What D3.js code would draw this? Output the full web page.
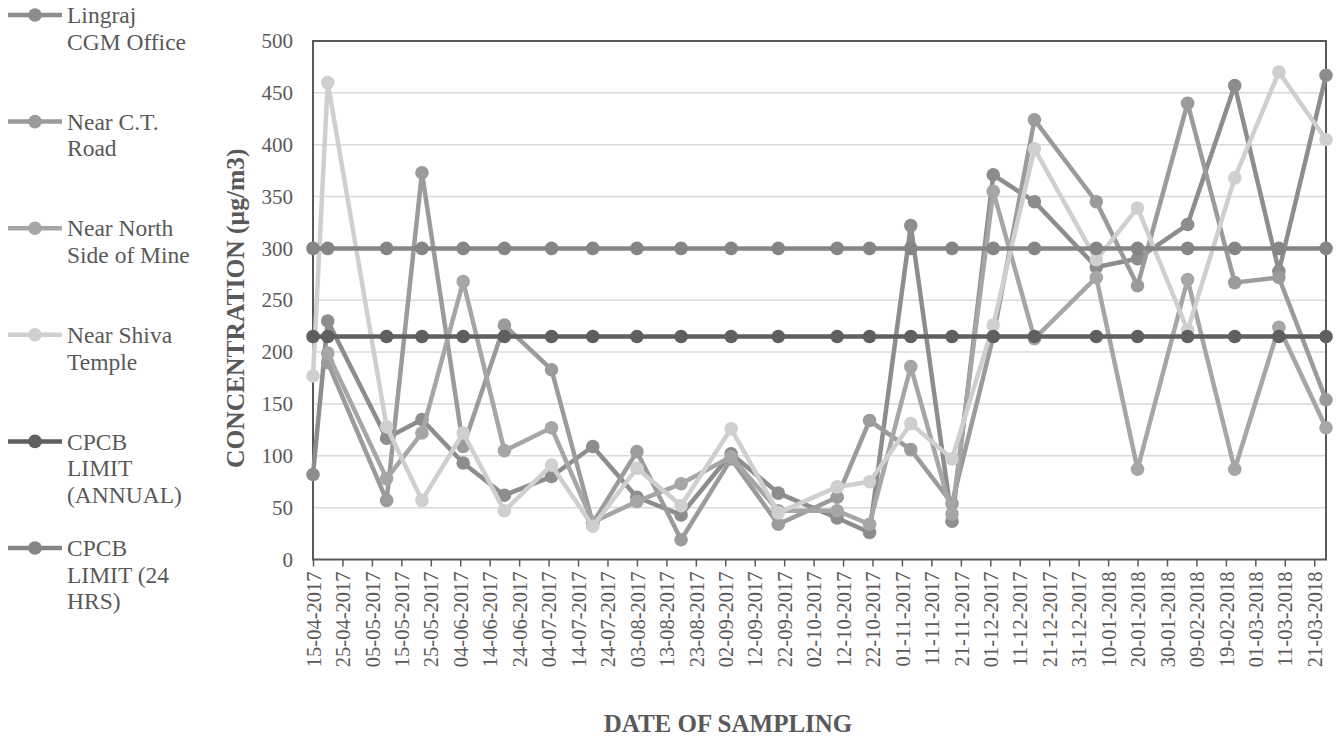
<!DOCTYPE html>
<html>
<head>
<meta charset="utf-8">
<script src="https://cdn.jsdelivr.net/npm/d3@7"></script>
<style>
  html, body { margin: 0; padding: 0; background: #ffffff; }
  svg { display: block; }
  text { font-family: "Liberation Serif", "Times New Roman", serif; fill: #595959; }
</style>
</head>
<body>
<svg id="chart" width="1337" height="740"></svg>
<script>
// Sampling dates (twice a month, Apr 2017 – Mar 2018)
const sampleDates = [
  "2017-04-15", "2017-04-20", "2017-05-10", "2017-05-22", "2017-06-05", "2017-06-19",
  "2017-07-05", "2017-07-19", "2017-08-03", "2017-08-18", "2017-09-04", "2017-09-20",
  "2017-10-10", "2017-10-21", "2017-11-04", "2017-11-18", "2017-12-02", "2017-12-16",
  "2018-01-06", "2018-01-20", "2018-02-06", "2018-02-22", "2018-03-09", "2018-03-25"
];

// Concentrations (µg/m3) per monitoring station
const lingraj = [82, 230, 117, 135, 93, 62, 80, 109, 60, 43, 102, 64, 40, 26, 322, 37, 371, 345, 282, 290, 323, 457, 278, 467];
const ctRoad = [null, 190, 57, 373, 109, 226, 183, 35, 104, 19, 97, 34, 60, 134, 106, 54, 215, 424, 345, 264, 440, 267, 272, 154];
const northSide = [null, 199, 78, 122, 268, 105, 127, 36, 56, 73, 99, 47, 47, 34, 186, 44, 355, 213, 272, 87, 270, 87, 224, 127];
const shivaTemple = [177, 460, 128, 57, 122, 47, 91, 32, 88, 52, 126, 45, 70, 75, 131, 97, 226, 396, 289, 339, 221, 368, 470, 405];
const limitAnnual = sampleDates.map(() => 215);
const limit24h = sampleDates.map(() => 300);

const seriesNames = [
  ["Lingraj", "CGM Office"],
  ["Near C.T.", "Road"],
  ["Near North", "Side of Mine"],
  ["Near Shiva", "Temple"],
  ["CPCB", "LIMIT", "(ANNUAL)"],
  ["CPCB", "LIMIT (24", "HRS)"]
];
const seriesValues = [lingraj, ctRoad, northSide, shivaTemple, limitAnnual, limit24h];
const seriesColors = ["#8d8d8d", "#9b9b9b", "#a6a6a6", "#cfcfcf", "#5f5f5f", "#858585"];

// Axis ticks
const yTicks = [0, 50, 100, 150, 200, 250, 300, 350, 400, 450, 500];
const xTickStart = "2017-04-15";
const xTickStepDays = 10;
const xTickCount = 35;

const FONT = "'Liberation Serif', 'Times New Roman', serif";
const parse = d3.timeParse("%Y-%m-%d");
const fmt = d3.timeFormat("%d-%m-%Y");
const dates = sampleDates.map(parse);
const tickDates = d3.range(xTickCount).map(i => d3.timeDay.offset(parse(xTickStart), i * xTickStepDays));

const svg = d3.select("#chart");
const plot = { left: 313, right: 1326, top: 41, bottom: 559.5 };

const x = d3.scaleTime()
  .domain([dates[0], dates[dates.length - 1]])
  .range([plot.left, plot.right]);
const y = d3.scaleLinear().domain([0, 500]).range([plot.bottom, plot.top]);

// Horizontal gridlines
svg.append("g")
  .selectAll("line")
  .data(yTicks.filter(v => v > 0 && v < 500))
  .join("line")
  .attr("x1", plot.left).attr("x2", plot.right)
  .attr("y1", d => y(d)).attr("y2", d => y(d))
  .attr("stroke", "#d9d9d9").attr("stroke-width", 1.5);

// Y axis
const yAxis = svg.append("g")
  .attr("transform", `translate(${plot.left},0)`)
  .call(d3.axisLeft(y).tickValues(yTicks).tickSize(0).tickPadding(20));
yAxis.attr("font-family", FONT);
yAxis.select(".domain").remove();
yAxis.selectAll("text")
  .style("font-family", FONT)
  .style("font-size", "21px").attr("fill", "#595959");

// X axis (date axis, one tick every ten days)
const xAxis = svg.append("g")
  .attr("transform", `translate(0,${plot.bottom})`)
  .call(d3.axisBottom(x).tickValues(tickDates).tickFormat(fmt).tickSize(7).tickSizeOuter(0));
xAxis.attr("font-family", FONT);
xAxis.select(".domain").remove();
xAxis.selectAll(".tick line").attr("stroke", "#595959").attr("stroke-width", 1.5);
xAxis.selectAll("text")
  .style("font-family", FONT)
  .style("font-size", "20.5px").attr("fill", "#595959")
  .attr("transform", "rotate(-90)")
  .attr("text-anchor", "end")
  .attr("x", -12).attr("y", 0).attr("dy", "0.35em");

// Plot area frame
svg.append("rect")
  .attr("x", plot.left).attr("y", plot.top)
  .attr("width", plot.right - plot.left).attr("height", plot.bottom - plot.top)
  .attr("fill", "none").attr("stroke", "#595959").attr("stroke-width", 2);

// Series lines with markers
const line = d3.line()
  .defined(d => d.v !== null)
  .x(d => x(d.date)).y(d => y(d.v));

seriesValues.forEach((vals, i) => {
  const pts = vals.map((v, j) => ({ date: dates[j], v }));
  const g = svg.append("g");
  g.append("path")
    .datum(pts)
    .attr("d", line)
    .attr("fill", "none")
    .attr("stroke", seriesColors[i])
    .attr("stroke-width", 4.5)
    .attr("stroke-linejoin", "round");
  g.selectAll("circle")
    .data(pts.filter(d => d.v !== null))
    .join("circle")
    .attr("cx", d => x(d.date)).attr("cy", d => y(d.v))
    .attr("r", 6.8)
    .attr("fill", seriesColors[i]);
});

// Legend
const legendTop = 15, legendStep = 106.6, lineGap = 26.5;
const legend = svg.append("g");
seriesNames.forEach((lines, i) => {
  const cy = legendTop + i * legendStep;
  legend.append("line")
    .attr("x1", 8).attr("x2", 62).attr("y1", cy).attr("y2", cy)
    .attr("stroke", seriesColors[i]).attr("stroke-width", 4.5);
  legend.append("circle").attr("cx", 35).attr("cy", cy).attr("r", 6.8).attr("fill", seriesColors[i]);
  lines.forEach((t, k) => {
    legend.append("text")
      .attr("x", 67).attr("y", cy + k * lineGap)
      .attr("dy", "0.35em")
      .style("font-family", FONT)
      .style("font-size", "23.5px")
      .text(t);
  });
});

// Axis titles
svg.append("text")
  .attr("transform", `translate(235,${(plot.top + plot.bottom) / 2 + 8}) rotate(-90)`)
  .attr("text-anchor", "middle").attr("dy", "0.35em")
  .style("font-family", FONT)
  .style("font-size", "25.5px").style("font-weight", "bold")
  .text("CONCENTRATION (µg/m3)");

svg.append("text")
  .attr("x", 728).attr("y", 732)
  .attr("text-anchor", "middle")
  .style("font-family", FONT)
  .style("font-size", "25px").style("font-weight", "bold")
  .text("DATE OF SAMPLING");
</script>
</body>
</html>
